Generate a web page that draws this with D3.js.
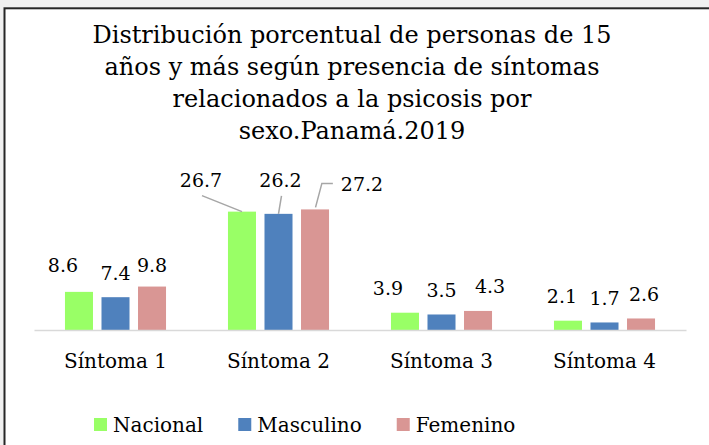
<!DOCTYPE html>
<html>
<head>
<meta charset="utf-8">
<script src="https://cdn.jsdelivr.net/npm/d3@7"></script>
<style>
  html, body { margin: 0; padding: 0; background: #f0f0f0; }
  svg { display: block; }
  text { font-family: "DejaVu Serif", serif; fill: #000; }
</style>
</head>
<body>
<svg id="chart" width="709" height="445"></svg>
<script>
// data
const categories = ["Síntoma 1", "Síntoma 2", "Síntoma 3", "Síntoma 4"];
const series = ["Nacional", "Masculino", "Femenino"];
const nacional  = [8.6, 26.7, 3.9, 2.1];
const masculino = [7.4, 26.2, 3.5, 1.7];
const femenino  = [9.8, 27.2, 4.3, 2.6];
const titleLines = [
  "Distribución porcentual de personas de 15",
  "años y más según presencia de síntomas",
  "relacionados a la psicosis por",
  "sexo.Panamá.2019"
];

const COLORS = ["#99FF66", "#4F81BD", "#D99694"];

// label nudges (dx, dy from bar top centre), like hand-moved labels in the original
const labelNudge = [
  [[-16, -20], [0, -17], [0, -15]],
  [[-41, -25, "below"], [2, -27, "below"], [47, -18, "side"]],
  [[-17, -18], [0, -17], [12, -18]],
  [[-6, -18], [0, -17], [3, -17]]
];

const values = [nacional, masculino, femenino];

const svg = d3.select("#chart");

// white chart area with the frame (only top/left edges fall inside the crop)
svg.append("rect")
  .attr("x", 4.5).attr("y", 8.3)
  .attr("width", 760).attr("height", 500)
  .attr("fill", "#fff")
  .attr("stroke", "#262626")
  .attr("stroke-width", 2);

// title
svg.append("g").selectAll("text")
  .data(titleLines)
  .join("text")
  .attr("x", 352)
  .attr("y", (d, i) => 43 + i * 32)
  .attr("text-anchor", "middle")
  .attr("font-size", 24)
  .text(d => d);

const x0 = d3.scaleBand().domain(categories).range([34, 686]).padding(0);
const x1 = d3.scaleBand().domain(series)
  .range([x0.bandwidth() * 0.19, x0.bandwidth() * 0.81])
  .paddingInner(0.233).paddingOuter(0);
const y = d3.scaleLinear().domain([0, 30]).range([330, 197]);

const rows = [];
categories.forEach((c, ci) => {
  series.forEach((s, si) => {
    rows.push({ cat: c, ci, ser: s, si, v: values[si][ci] });
  });
});

// bars
svg.append("g").selectAll("rect")
  .data(rows)
  .join("rect")
  .attr("x", d => x0(d.cat) + x1(d.ser))
  .attr("y", d => y(d.v))
  .attr("width", x1.bandwidth())
  .attr("height", d => y(0) - y(d.v))
  .attr("fill", d => COLORS[d.si]);

// category axis
const xAxis = svg.append("g")
  .attr("transform", `translate(0,${y(0)})`)
  .call(d3.axisBottom(x0).tickSize(0).tickPadding(0));
xAxis.select(".domain").attr("stroke", "#D9D9D9").attr("stroke-width", 1.5);
xAxis.selectAll(".tick text")
  .attr("font-family", "DejaVu Serif")
  .attr("font-size", 20)
  .attr("fill", "#000")
  .attr("dy", null)
  .attr("y", 38);

// data labels + leader lines
const labels = svg.append("g");
rows.forEach(d => {
  const n = labelNudge[d.ci][d.si];
  const bx = x0(d.cat) + x1(d.ser) + x1.bandwidth() / 2;
  const by = y(d.v);
  const lx = bx + n[0];
  const ly = by + n[1];
  const t = labels.append("text")
    .attr("x", lx).attr("y", ly)
    .attr("text-anchor", "middle")
    .attr("font-size", 19)
    .text(d3.format(".1f")(d.v));
  if (n[2] === "below") {
    labels.append("path")
      .attr("d", d3.line()([[lx + 1, ly + 9], [bx, by]]))
      .attr("fill", "none").attr("stroke", "#A6A6A6").attr("stroke-width", 1.5);
  } else if (n[2] === "side") {
    const w = t.node().getComputedTextLength();
    const sx = lx - w / 2 - 8;
    labels.append("path")
      .attr("d", d3.line()([[sx, ly - 8], [sx - 11, ly - 8], [bx + 0.5, by - 2]]))
      .attr("fill", "none").attr("stroke", "#A6A6A6").attr("stroke-width", 1.5);
  }
});

// legend
const legend = svg.append("g").attr("transform", "translate(94,418)");
let lxPos = 0;
series.forEach((s, i) => {
  const g = legend.append("g").attr("transform", `translate(${lxPos},0)`);
  g.append("rect").attr("width", 13).attr("height", 13).attr("fill", COLORS[i]);
  const t = g.append("text").attr("x", 19).attr("y", 13.5).attr("font-size", 20).text(s);
  lxPos += 19 + t.node().getComputedTextLength() + 35;
});
</script>
</body>
</html>
